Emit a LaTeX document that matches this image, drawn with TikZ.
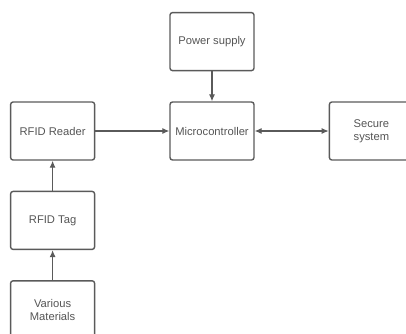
\documentclass[tikz,border=0pt]{standalone}
\usepackage{fontspec}
\setmainfont{Liberation Sans}
\usetikzlibrary{arrows.meta,positioning}
\definecolor{edge}{RGB}{90,90,90}
\definecolor{label}{RGB}{85,85,85}

\begin{document}
\begin{tikzpicture}[x=1pt, y=-1pt, font=\fontsize{11.2}{13.4}\selectfont,
box/.style={draw=edge, line width=1.4pt, rounded corners=2.5pt, text=label, minimum width=84pt, minimum height=58pt, align=center, inner sep=1pt},
arrow/.style={-{Latex[length=7pt, width=6pt]}, line width=1.1pt, edge}]
\useasboundingbox (0,0) rectangle (406,333);
\clip (0,0) rectangle (406,333);
\node[box] (mcu) at (212,131) {Microcontroller};
\node[box, above=30pt of mcu] (power) {Power supply};
\node[box, left=74pt of mcu] (reader) {RFID Reader};
\node[box, right=74pt of mcu] (secure) {Secure\\system};
\node[box, below=30pt of reader] (tag) {RFID Tag};
\node[box, below=30pt of tag] (material) {Various\\Materials};
\draw[arrow] (power)--(mcu);
\draw[arrow] (reader)--(mcu);
\draw[arrow, {Latex[length=7pt, width=6pt]}-{Latex[length=7pt, width=6pt]}] (mcu)--(secure);
\draw[arrow] (tag)--(reader);
\draw[arrow] (material)--(tag);
\end{tikzpicture}
\end{document}
